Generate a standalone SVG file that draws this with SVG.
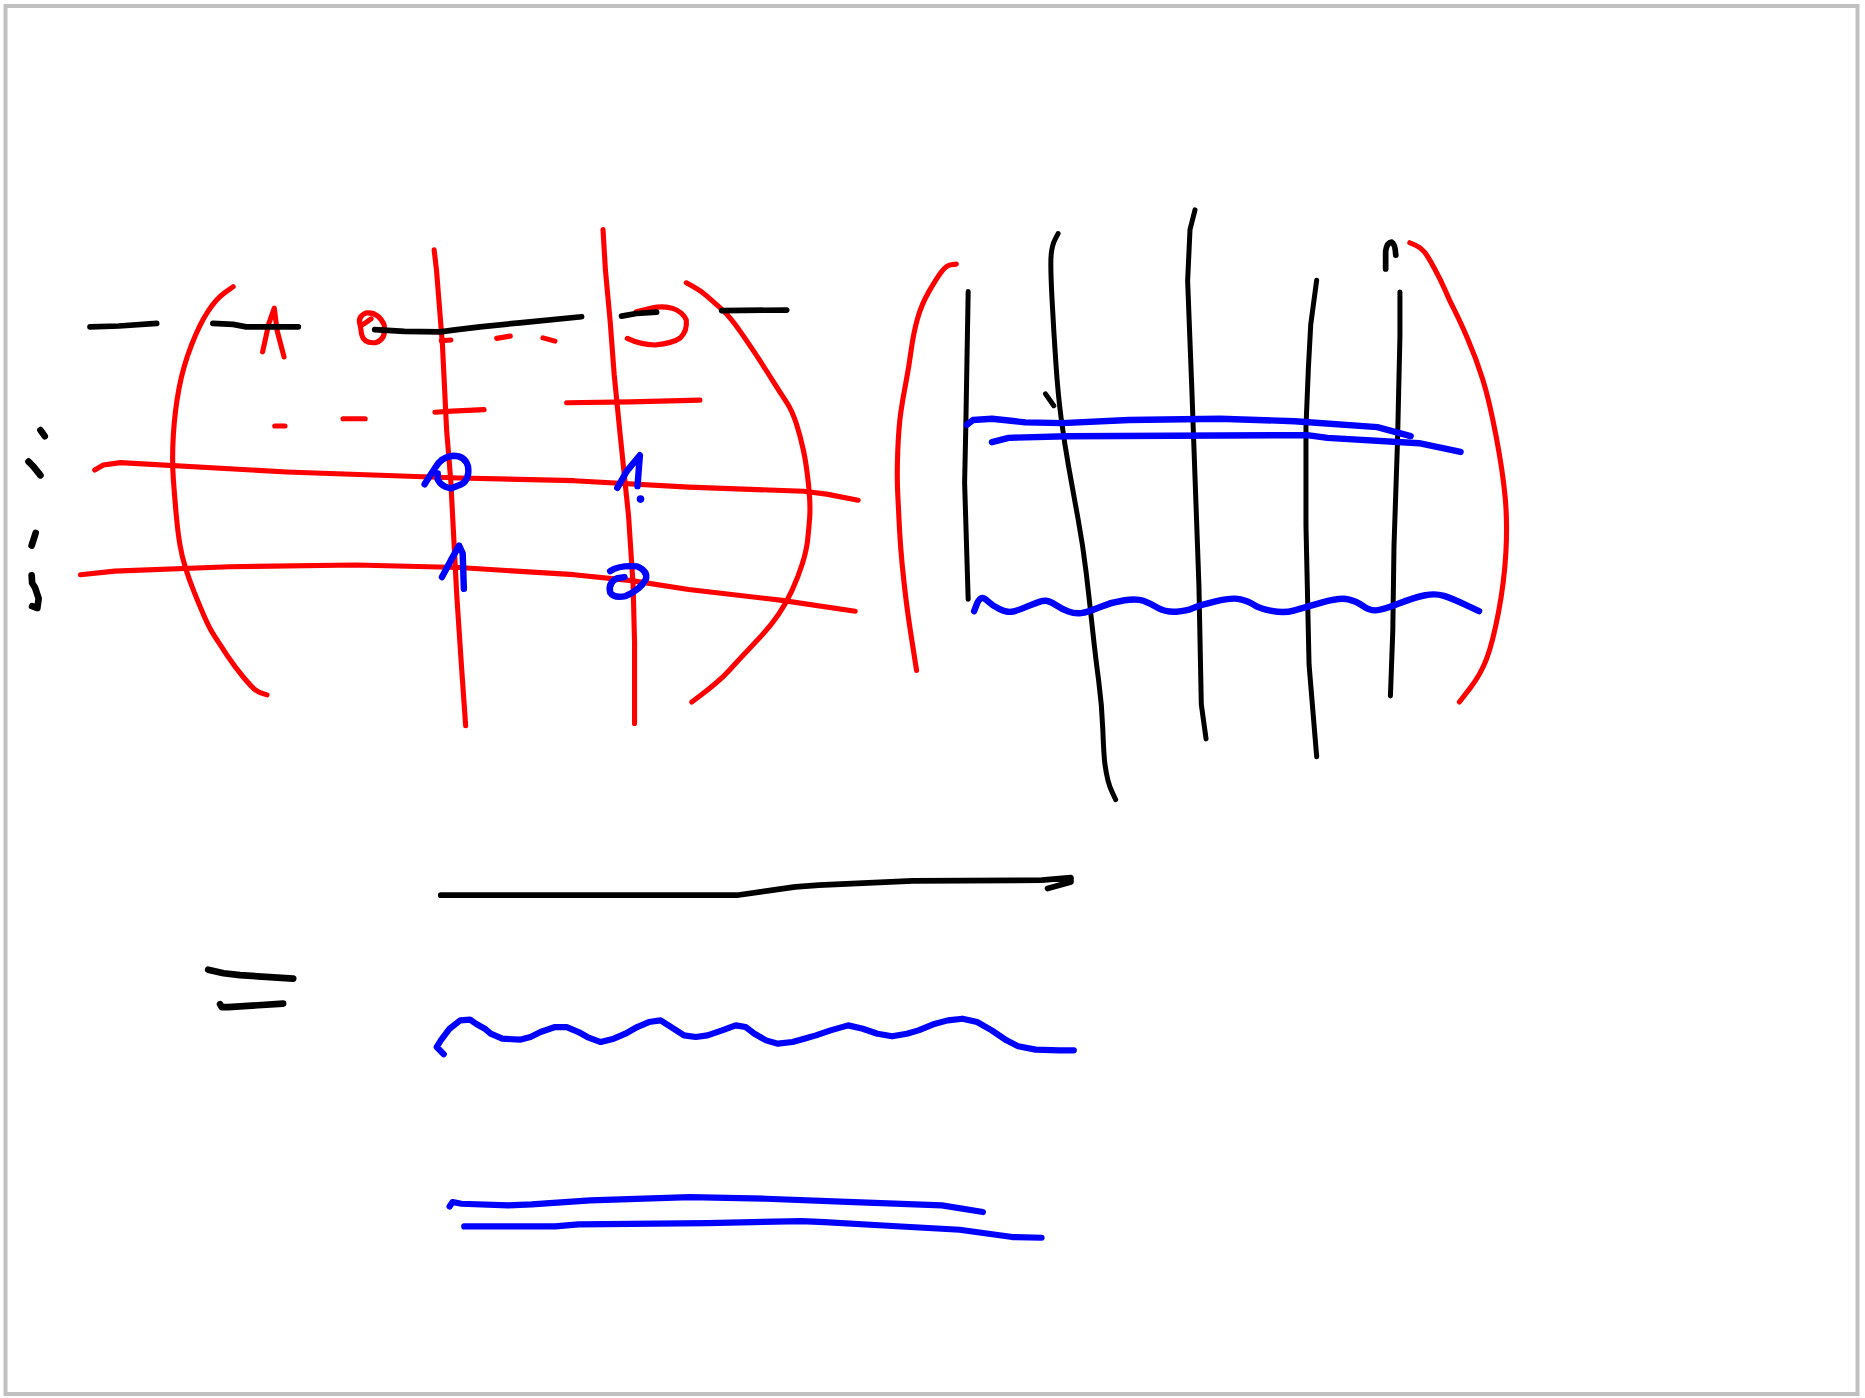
<svg xmlns="http://www.w3.org/2000/svg" width="1865" height="1398" viewBox="0 0 1865 1398">
<style>
path{fill:none;stroke-linecap:round;stroke-linejoin:round}
.r{stroke:#ff0000;stroke-width:4.3}
.k{stroke:#000000;stroke-width:4.8}
.kt{stroke:#000000;stroke-width:4.2}
.kb{stroke:#000000;stroke-width:5.6}
.b{stroke:#0000ff;stroke-width:5.4}
.bt{stroke:#0000ff;stroke-width:5.2}
</style>
<rect x="0" y="0" width="1865" height="1398" fill="#ffffff"/>
<rect x="5.5" y="6" width="1852" height="1388" fill="none" stroke="#c0c0c0" stroke-width="4"/>
<g transform="scale(1.18941 1.1898)">
<g id="left-panel">
<g id="left-red">
<path class="r" d="M196,241 L189,246 Q182,251 175,261.5 Q168,272 161,290 Q154,308 150.5,326.5 Q147,345 145.75,365.5 Q144.5,386 145.75,403 Q147,420 148.3,434 Q149.6,448 151.3,458 Q153,468 156,477.5 Q159,487 163,497 Q167,507 171.5,517.5 Q176,528 180.9,535.5 Q185.8,543 191.4,551.5 Q197,560 204.5,569 Q212,578 215,580 Q218,582 221.25,583 L224.5,584"/>
<path class="r" d="M365,210 L367,227 L372,290 L375.5,361.5 L379,404 L384,500 L388,560 L391.5,610"/>
<path class="r" d="M507,193 L509,227 L513,270 L516.4,315 L521,361.5 L526,410 L528.5,434 L532.3,492 L533.5,540 L533.5,608"/>
<path class="r" d="M577,237.7 L582.75,240.75 Q588.5,243.8 594.1,248.7 Q599.7,253.6 606.7,259.8 Q613.7,266 623.35,280 Q633,294 638.5,302.5 Q644,311 650,320.5 Q656,330 661,337.5 Q666,345 669.5,356 Q673,367 675.5,378.5 Q678,390 679.75,407.3 Q681.5,424.6 680.75,434.8 Q680,445 679,454 Q678,463 674.5,474 Q671,485 666,496 Q661,507 654.5,516.5 Q648,526 640,534.5 Q632,543 625,550.5 Q618,558 613,563.5 Q608,569 601.5,574.5 Q595,580 588.3,585 L581.6,590"/>
<path class="r" d="M79.6,395 L86.9,390.8 L101.3,388.8 L241,396.7 L386,401.7 L482.6,404 L579,409.4 L675.7,412.9 L695,415.3 L721.5,420.4"/>
<path class="r" d="M67.6,483 L96.5,480 L193,476.3 L299,474.9 L386,477 L482.6,483 L531,488 L579,495.4 L656,504.4 L719,513.7"/>
<path class="r" d="M220.8,295.7 L226,272 L230.6,259 L233,278 L238.8,300"/>
<path class="r" d="M312,268 Q307,272 303,274 Q300,266 308,263 Q318,262 323,273 Q325,285 316,288 Q306,289 304,281 L303,274"/>
<path class="r" d="M371,286.4 L379,285.8"/>
<path class="r" d="M417.6,284.4 L429,282.5"/>
<path class="r" d="M456.5,284 L466.6,286.7"/>
<path class="r" d="M231,358 L239.6,358"/>
<path class="r" d="M288.4,352 L307,352"/>
<path class="r" d="M365.7,346.5 L380,345.5 L407,344.3"/>
<path class="r" d="M476.4,338.5 L530,337.8 L588.5,336.3"/>
<path class="r" d="M527.4,284.4 Q538,289.5 550.7,290 Q566,288.5 572,284 Q578,278 577,269 Q574,262 565,259 Q556,257 549,258.7 L535,262"/>
</g>
<g id="left-black">
<path class="k" d="M75.7,274.7 L100,274 L131.7,271.8"/>
<path class="k" d="M179,271.8 L196,272.6 L207,274.7 L250.8,274.7"/>
<path class="k" d="M315,277 L340,278.5 L370,278.9 L381,277.5 L403.6,274.7 L437,271.3 L489,266.2"/>
<path class="k" d="M522.6,265.7 L535,263.5 L552,262.3"/>
<path class="k" d="M606.7,261 L661.4,260.6"/>
<path class="kb" d="M34,361.5 L37.6,366.6"/>
<path class="kb" d="M24,388 L28,392 L34,399.5"/>
<path class="kb" d="M30,448 L26.6,458.6"/>
<path class="kb" d="M26.6,483.6 L27,490 L29.5,494 L32.5,503 L31.4,511 L27,509.5"/>
</g>
<g id="left-blue">
<path class="b" d="M357,407 L362,399 L366,393 Q371,384 381,383 Q391,383 393.5,392 Q395,403 388,407 L379,410.5 Q371,409 368,403 L368,398"/>
<path class="b" d="M519,410 L527,396 L538,382.6 L537,395 L536,408.6"/>
<circle cx="538.5" cy="419.5" r="3.2" fill="#0000ff"/>
<path class="b" d="M371.6,485 L379,471 L386,458.6 L389,465 L390,494.9"/>
<path class="b" d="M513,480 Q520,475 535.7,476 Q545,480 543,487 Q538,496 526,501 Q516,503 513,498 Q511,490 519,486 L525,485"/>
</g>
</g>
<g id="right-panel">
<g id="right-red">
<path class="r" d="M804,222 L799.75,222.5 Q795.5,223 791.25,228.8 Q787,234.6 780.85,245.3 Q774.7,256 771.35,268 Q768,280 766,294.75 Q764,309.5 761.5,322.25 Q759,335 757.3,347 Q755.6,359 754.8,379 Q754,399 754.75,414.5 Q755.5,430 756.25,444.5 Q757,459 758.5,474.5 Q760,490 761.8,504.4 Q763.6,518.8 767.1,541.15 L770.6,563.5"/>
<path class="r" d="M1185.3,204 L1190.15,206.15 Q1195,208.3 1197.8,212 Q1200.6,215.7 1206.15,225.85 Q1211.7,236 1215.2,244.3 Q1218.7,252.6 1222.85,260.7 Q1227,268.8 1234,284.9 Q1241,301 1246.5,318.5 Q1252,336 1257.7,365.8 Q1263.4,395.6 1265.45,417.7 Q1267.5,439.8 1266.05,464.9 Q1264.6,490 1259.8,515 Q1255,540 1250,553.35 Q1245,566.7 1236,578.35 L1227,590"/>
</g>
<g id="right-black">
<path class="kt" d="M814,245 L812,359 L811,405.7 L814,503.7"/>
<path class="kt" d="M889.6,196.3 L887.05,201.15 Q884.5,206 883.75,214.4 Q883,222.8 884.5,251.4 Q886,280 887.8,306.3 Q889.6,332.6 892.3,352.6 Q895,372.6 898.5,392.5 Q902,412.4 906.3,435.7 Q910.6,459 913.3,482 Q916,505 918.5,528.5 Q921,552 923.7,572 Q926.4,592 927.2,613.5 Q928,635 929,642.5 Q930,650 931.5,655.85 Q933,661.7 935.5,666.85 L938,672"/>
<path class="kt" d="M879,331 L886,341"/>
<path class="kt" d="M1004.7,176.4 L1000.5,193 L998.5,236 L1002,326 L1008,492 L1010,592 L1014,621"/>
<path class="kt" d="M1107,235.5 L1102,272.8 L1100,310 L1098,359 L1098,442 L1100.6,558.7 L1107,636"/>
<path class="kt" d="M1177,245.5 L1177,282.6 L1175,370 L1172,459 L1171,530 L1169,585"/>
<path class="k" d="M1165,226 L1165,211 Q1166,204 1170,203.5 Q1173,205 1173.5,214.4"/>
</g>
<g id="right-blue">
<path class="b" d="M813,357 L818,353 L834,352 L862,355 L893,355.6 L949,353 L1025.7,352 L1088.5,354 L1158,359 L1186,366.5"/>
<path class="b" d="M834,371.6 L848,368 L896.8,366.6 L1099,365.7 L1116,368 L1193,372.5 L1228,379.8"/>
<path class="b" d="M819,513.7 L820.9,508.7 Q822.8,503.7 824.9,502.85 Q827,502 830.5,505.35 Q834,508.7 840,511.7 Q846,514.7 850.5,514.15 Q855,513.6 865.4,509.05 Q875.8,504.5 879.4,504.95 Q883,505.4 888,508.7 Q893,512 898.35,514 Q903.7,516 908.85,515.3 Q914,514.6 924.5,510.3 Q935,506 945.5,504.5 Q956,503 961.25,505 Q966.5,507 973.25,510.8 Q980,514.6 989,514.1 Q998,513.6 1003,511.15 Q1008,508.7 1022,505.35 Q1036,502 1043,503.7 Q1050,505.4 1054.3,508.4 Q1058.6,511.4 1069.1,513.45 Q1079.6,515.5 1087.55,513.25 Q1095.5,511 1111.05,506.5 Q1126.6,502 1133.65,503.7 Q1140.7,505.4 1145.85,509.2 Q1151,513 1156.3,513 Q1161.6,513 1175.55,507.5 Q1189.5,502 1198.25,500.3 Q1207,498.6 1214,500.8 Q1221,503 1232.25,508.35 L1243.5,513.7"/>
</g>
</g>
<g id="bottom-legend">
<path class="k" d="M370.6,752.4 L619.5,752.4 L668.7,745.4 L688.5,744 L767.3,740.4 L875.7,739.8 L900.4,737.6 L900.4,741.2 L880.7,746.8"/>
<path class="kb" d="M175,815 L188,818 L201.8,819.6 L246.5,822.5"/>
<path class="kb" d="M185,844 L186.4,846.5 L192,846.5 L238,843.5"/>
<path class="bt" d="M373.1,886.1 L367.1,880 L370.6,874.4 L378,864.6 L386.9,857.6 L395.2,857 L400.2,860.4 L407.6,864.6 L412.5,868.8 L422.3,873 L437.1,873.8 L446,871.6 L454.4,867.4 L466.7,863.2 L476.5,863.2 L486.4,867.4 L493.8,871.6 L505.1,875.8 L516,873 L525.8,868.8 L535.7,863.2 L545.5,859 L555.4,857.6 L564.3,863.2 L575.1,870.2 L585,871.6 L594.8,870.2 L607.1,866 L618.5,861.8 L626.9,863.2 L634.3,868.8 L644.1,874.4 L654,877.2 L666.3,875.8 L676.1,873 L686,870.2 L698.3,866 L713.1,861.8 L725.4,864.6 L737.7,868.8 L750.1,871 L762.4,868.8 L772.2,866 L784.6,860.9 L796.9,857.6 L809.2,856.2 L821.5,859 L833.8,866 L846.2,874.4 L856,879.4 L870.8,882.2 L890.5,882.8 L902.8,882.8"/>
<path class="bt" d="M378,1014 L380.5,1010.3 L387.9,1011.7 L427.3,1013.1 L447,1012.3 L496.3,1008.9 L580,1006.1 L644.1,1007.5 L718,1010.3 L791.9,1013.1 L826.4,1018.7"/>
<path class="bt" d="M390.3,1030.8 L466.7,1030.8 L486.4,1029.1 L594.8,1028 L673.7,1026.3 L693.4,1027.1 L742.7,1030 L806.7,1033.6 L851.1,1039.7 L875.7,1040.3"/>
</g>
</g>
</svg>
